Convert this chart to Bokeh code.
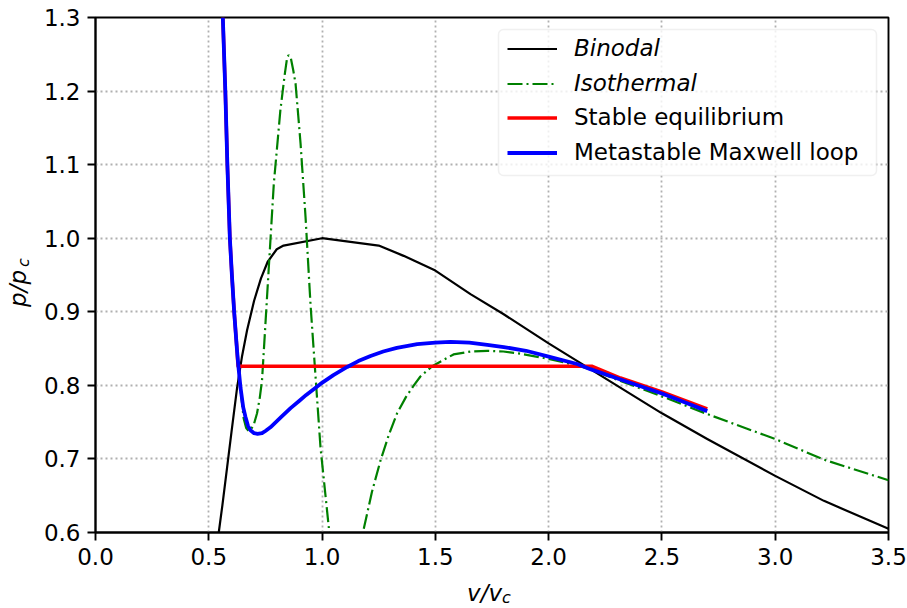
import math
from bokeh.plotting import figure
from bokeh.models import (Range1d, FixedTicker, PrintfTickFormatter, Legend,
                          LegendItem, BoxAnnotation, Label)
from bokeh.embed import file_html
from bokeh.resources import INLINE

nan = float("nan")

# ---------------- data ----------------
x_ticks = [0.0, 0.5, 1.0, 1.5, 2.0, 2.5, 3.0, 3.5]
y_ticks = [0.6, 0.7, 0.8, 0.9, 1.0, 1.1, 1.2, 1.3]

binodal_v = [0.544, 0.56, 0.581, 0.60, 0.625, 0.647, 0.669, 0.70, 0.73, 0.76,
             0.80, 0.83, 1.0, 1.25, 1.36, 1.5, 1.655, 1.80, 2.0, 2.184,
             2.5, 2.7, 3.0, 3.215, 3.5]
binodal_p = [0.600, 0.637, 0.689, 0.736, 0.797, 0.840, 0.875, 0.915, 0.945, 0.968,
             0.985, 0.990, 1.000, 0.990, 0.976, 0.956, 0.924, 0.897, 0.857, 0.822,
             0.762, 0.727, 0.677, 0.643, 0.605]

iso_v = [0.562, 0.573, 0.582, 0.593, 0.602, 0.612, 0.624, 0.64, 0.654, 0.665,
         0.676, 0.69, 0.70, 0.713, 0.725, 0.735, 0.748, 0.76, 0.787, 0.816,
         0.835, 0.846, 0.853, 0.862, 0.873, 0.883, 0.905, 0.927, 0.949, 0.968,
         0.993, 1.032, nan, 1.184, 1.22, 1.258, 1.295, 1.331, 1.37, 1.405,
         1.434, 1.486, 1.58, 1.655, 1.729, 1.80, 1.876, 2.0, 2.126, 2.184,
         2.317, 2.5, 2.7, 3.0, 3.215, 3.5]
iso_p = [1.30, 1.20, 1.10, 1.00, 0.95, 0.90, 0.85, 0.795, 0.755, 0.742,
         0.738, 0.742, 0.748, 0.762, 0.783, 0.807, 0.873, 0.935, 1.074, 1.174,
         1.222, 1.246, 1.249, 1.245, 1.228, 1.21, 1.129, 1.029, 0.91, 0.826,
         0.716, 0.60, nan, 0.605, 0.655, 0.698, 0.733, 0.762, 0.784, 0.800,
         0.812, 0.826, 0.842, 0.846, 0.847, 0.846, 0.843, 0.836, 0.827, 0.822,
         0.806, 0.785, 0.761, 0.727, 0.699, 0.671]

stable_v = [0.562, 0.573, 0.582, 0.593, 0.602, 0.612, 0.624, 0.629, 2.19,
            2.317, 2.5, 2.7]
stable_p = [1.30, 1.20, 1.10, 1.00, 0.95, 0.90, 0.85, 0.826, 0.826,
            0.810, 0.791, 0.768]

meta_v = [0.562, 0.573, 0.582, 0.593, 0.602, 0.612, 0.624, 0.631, 0.64, 0.652,
          0.662, 0.673, 0.684, 0.70, 0.715, 0.735, 0.75, 0.772, 0.82, 0.861,
          0.90, 0.93, 0.993, 1.05, 1.111, 1.16, 1.214, 1.27, 1.33, 1.42,
          1.5, 1.567, 1.65, 1.729, 1.802, 1.9, 2.0, 2.126, 2.184, 2.317,
          2.5, 2.6, 2.7]
meta_p = [1.30, 1.20, 1.10, 1.00, 0.95, 0.90, 0.85, 0.825, 0.797, 0.77,
          0.757, 0.745, 0.739, 0.735, 0.734, 0.735, 0.738, 0.743, 0.757, 0.769,
          0.779, 0.787, 0.802, 0.814, 0.825, 0.833, 0.840, 0.846, 0.851, 0.856,
          0.858, 0.859, 0.858, 0.855, 0.852, 0.847, 0.839, 0.829, 0.822, 0.808,
          0.789, 0.777, 0.765]

labels = ["Binodal", "Isothermal", "Stable equilibrium", "Metastable Maxwell loop"]

# ---------------- figure ----------------
FONT = "DejaVu Sans"
p = figure(width=907, height=608, x_range=Range1d(0, 3.5), y_range=Range1d(0.6, 1.3),
           output_backend="svg", toolbar_location=None,
           min_border_left=95, min_border_right=19, min_border_top=17,
           min_border_bottom=76)
p.background_fill_color = "white"
p.border_fill_color = "white"
p.outline_line_color = "black"
p.outline_line_width = 1.9

p.xaxis.ticker = FixedTicker(ticks=x_ticks)
p.yaxis.ticker = FixedTicker(ticks=y_ticks)
p.xaxis.formatter = PrintfTickFormatter(format="%.1f")
p.yaxis.formatter = PrintfTickFormatter(format="%.1f")
for ax in (p.xaxis, p.yaxis):
    ax.major_tick_out = 8
    ax.major_tick_in = 0
    ax.major_tick_line_width = 1.9
    ax.major_tick_line_color = "black"
    ax.minor_tick_line_color = None
    ax.axis_line_width = 1.9
    ax.axis_line_color = "black"
    ax.major_label_text_font = FONT
    ax.major_label_text_font_size = "23px"
    ax.major_label_text_color = "black"
    ax.major_label_standoff = 7

p.grid.grid_line_color = "#b0b0b0"
p.grid.grid_line_dash = "2 3"
p.grid.grid_line_width = 1.8

r_bin = p.line(binodal_v, binodal_p, line_color="black", line_width=2.2,
               line_join="round")
r_iso = p.line(iso_v, iso_p, line_color="green", line_width=2.2,
               line_dash="15 4 2 4")
r_stab = p.line(stable_v, stable_p, line_color="red", line_width=3.5,
                line_join="round")
r_meta = p.line(meta_v, meta_p, line_color="blue", line_width=3.8,
                line_join="round")

# legend frame
box = BoxAnnotation(left=1.7787, right=3.447, top=1.2837, bottom=1.0852,
                    fill_color="white", fill_alpha=0.8,
                    line_color="#cccccc", line_width=1.5, border_radius=5)
p.add_layout(box)

common = dict(padding=0, margin=0, spacing=0, glyph_width=50, glyph_height=35,
              label_height=35, label_standoff=17, border_line_color=None,
              background_fill_alpha=0, label_text_font=FONT,
              label_text_font_size="23px", label_text_color="black")
leg1 = Legend(items=[LegendItem(label=labels[0], renderers=[r_bin]),
                     LegendItem(label=labels[1], renderers=[r_iso])],
              location=(412, 431.5), label_text_font_style="italic", **common)
leg2 = Legend(items=[LegendItem(label=labels[2], renderers=[r_stab]),
                     LegendItem(label=labels[3], renderers=[r_meta])],
              location=(412, 362.5), label_text_font_style="normal", **common)
p.add_layout(leg1)
p.add_layout(leg2)

# axis labels (italic with subscript c), placed in side panels so they are
# not clipped to the frame; positions given in data units
lab = dict(text_font=FONT, text_font_style="italic", text_color="black",
           text_baseline="middle", text_align="center")
p.add_layout(Label(x=1.7169, y=0.5184, text="v/v", text_font_size="23px", **lab),
             "below")
p.add_layout(Label(x=1.814, y=0.511, text="c", text_font_size="16px", **lab),
             "right")
p.add_layout(Label(x=-0.34, y=0.9317, text="p/p", text_font_size="23px",
                   angle=math.pi / 2, **lab), "left")
p.add_layout(Label(x=-0.318, y=0.967, text="c", text_font_size="16px",
                   angle=math.pi / 2, **lab), "above")

open("out.html", "w").write(file_html(p, INLINE))
